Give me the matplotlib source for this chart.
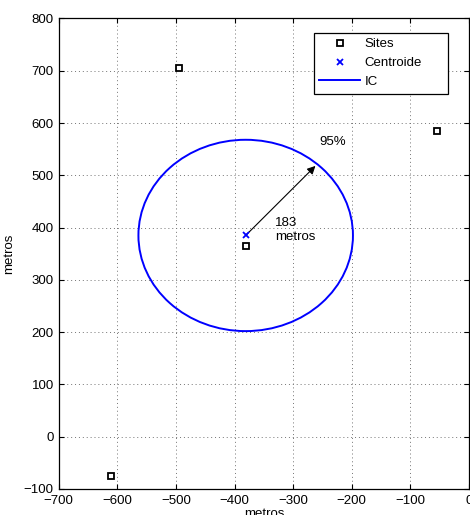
import numpy as np
import matplotlib
matplotlib.use("Agg")
import matplotlib.pyplot as plt
from matplotlib.patches import Circle
from matplotlib.lines import Line2D

# sites and centroid (metros)
site_x = [-611, -495, -380, -54]
site_y = [-75, 706, 365, 585]
centroid_x = -381
centroid_y = 385
ic_radius = 183
arrow_tip = (-262, 518)
radius_label = "183\nmetros"
conf_label = "95%"

plt.rcParams['font.family'] = ['Liberation Sans', 'DejaVu Sans']
plt.rcParams['font.size'] = 9.5

fig = plt.figure(figsize=(4.7, 5.15), dpi=100)
ax = fig.add_axes([0.1249, 0.0505, 0.873, 0.9136])

ax.plot(site_x, site_y, linestyle='none', marker='s', markersize=3.8,
        markeredgewidth=1.3, markeredgecolor='k', markerfacecolor='none',
        label='Sites', zorder=3)
ax.plot([centroid_x], [centroid_y], linestyle='none', marker='x', markersize=4,
        markeredgewidth=1.3, color='b', label='Centroide', zorder=4)
ax.add_patch(Circle((centroid_x, centroid_y), ic_radius, fill=False,
                    edgecolor='b', linewidth=1.4, zorder=2))
ic_handle = Line2D([], [], color='b', linewidth=1.4, label='IC')

ax.annotate('', xy=arrow_tip, xytext=(centroid_x, centroid_y),
            arrowprops=dict(arrowstyle='-|>', color='k', lw=0.8,
                            mutation_scale=12, shrinkA=0, shrinkB=0))
ax.text(-331, 395, radius_label, ha='left', va='center', linespacing=1.25)
ax.text(-256, 563, conf_label, ha='left', va='center')

ax.set_xlim(-700, 0)
ax.set_ylim(-100, 800)
ax.set_xticks(np.arange(-700, 1, 100))
ax.set_yticks(np.arange(-100, 801, 100))
ax.grid(True, color='0.45', linestyle=(0, (1, 3)), linewidth=0.7)
ax.tick_params(direction='in', length=3.6, width=0.8, top=True, right=True)
ax.tick_params(axis='x', pad=4)
ax.tick_params(axis='y', pad=3.5)
for sp in ax.spines.values():
    sp.set_linewidth(0.9)

ax.set_xlabel('metros', labelpad=1)
ax.set_ylabel('metros', labelpad=6)

handles = ax.get_legend_handles_labels()[0] + [ic_handle]
leg = ax.legend(handles=handles, loc='upper left',
                bbox_to_anchor=(0.622, 0.844, 0.3266, 0.126), mode='expand',
                borderaxespad=0, fancybox=False, framealpha=1,
                edgecolor='k', handlelength=3.1, handletextpad=0.3,
                labelspacing=0.5, borderpad=0.42)
leg.get_frame().set_linewidth(0.9)

fig.savefig('out.png', dpi=100)
